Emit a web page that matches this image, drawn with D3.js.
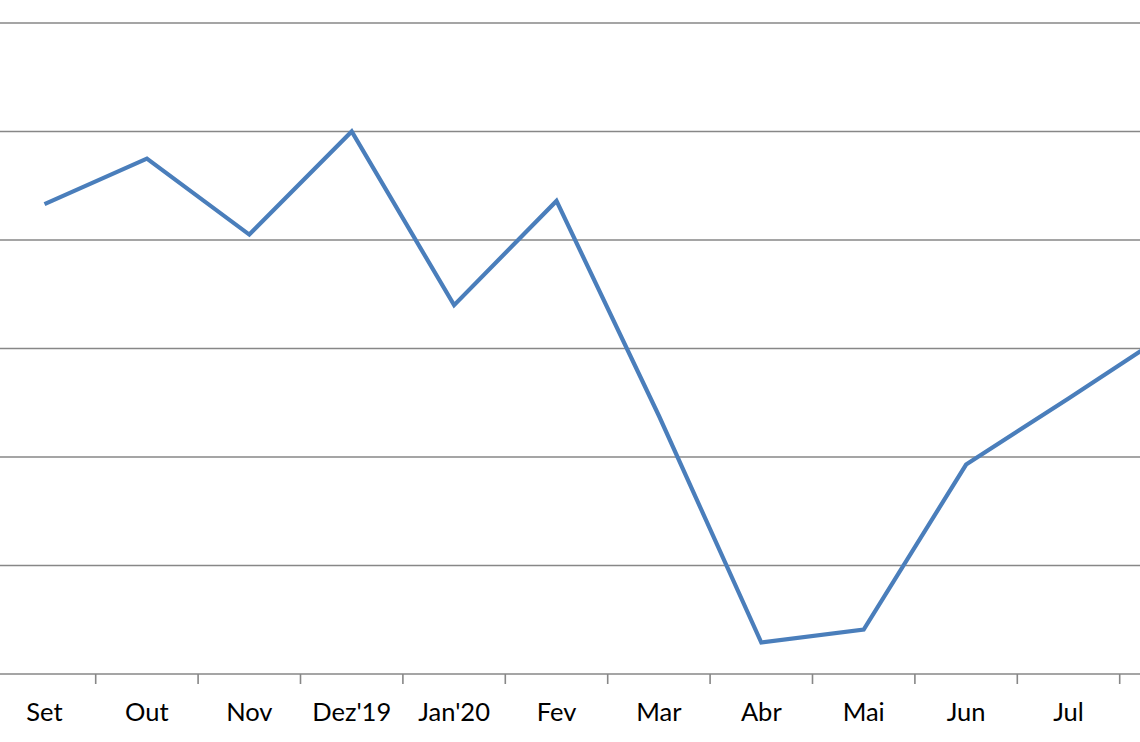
<!DOCTYPE html>
<html>
<head>
<meta charset="utf-8">
<script src="https://cdn.jsdelivr.net/npm/d3@7"></script>
<style>
  html, body { margin: 0; padding: 0; background: #fff; }
  svg { display: block; }
</style>
</head>
<body>
<svg id="chart" width="1140" height="742"></svg>
<script>
const categories = ["Set", "Out", "Nov", "Dez'19", "Jan'20", "Fev", "Mar", "Abr", "Mai", "Jun", "Jul", "Ago"];
const values = [4.33, 4.75, 4.05, 5.0, 3.40, 4.36, 2.38, 0.29, 0.41, 1.93, 2.54, 3.16];
const gridValues = [0, 1, 2, 3, 4, 5, 6];

const W = 1140, H = 742;
const svg = d3.select("#chart");

const step = 102.4;
const x = d3.scaleBand()
  .domain(categories)
  .range([-6.7, -6.7 + step * categories.length])
  .padding(0);

const y = d3.scaleLinear().domain([0, 6]).range([674, 23]);

const gridColor = "#878787";

// gridlines
svg.append("g")
  .selectAll("line")
  .data(gridValues.filter(v => v > 0))
  .join("line")
  .attr("x1", 0).attr("x2", W)
  .attr("y1", d => y(d)).attr("y2", d => y(d))
  .attr("stroke", gridColor)
  .attr("stroke-width", 1.6);

// x axis (only labels whose category centre lies inside the visible area)
const visible = categories.filter(c => x(c) + x.bandwidth() / 2 < W - 30);
const axis = svg.append("g")
  .attr("transform", `translate(0,${y(0)})`)
  .call(d3.axisBottom(x).tickValues(visible).tickSize(0).tickPadding(29));
axis.select(".domain").remove();
axis.selectAll("text")
  .attr("font-family", "Lato, 'Open Sans', sans-serif")
  .attr("font-size", 25.5)
  .attr("fill", "#000");

axis.append("line")
  .attr("x1", 0).attr("x2", W)
  .attr("y1", 0).attr("y2", 0)
  .attr("stroke", gridColor)
  .attr("stroke-width", 1.6);

// tick marks between categories
axis.append("g")
  .selectAll("line")
  .data(categories.slice(1))
  .join("line")
  .attr("x1", d => x(d)).attr("x2", d => x(d))
  .attr("y1", 0).attr("y2", 10)
  .attr("stroke", gridColor)
  .attr("stroke-width", 1.6);

// line
const line = d3.line()
  .x((d, i) => x(categories[i]) + x.bandwidth() / 2)
  .y(d => y(d));

svg.append("path")
  .datum(values)
  .attr("d", line)
  .attr("fill", "none")
  .attr("stroke", "#4a7ebb")
  .attr("stroke-width", 4.2)
  .attr("stroke-linejoin", "miter")
  .attr("stroke-linecap", "butt");
</script>
</body>
</html>
